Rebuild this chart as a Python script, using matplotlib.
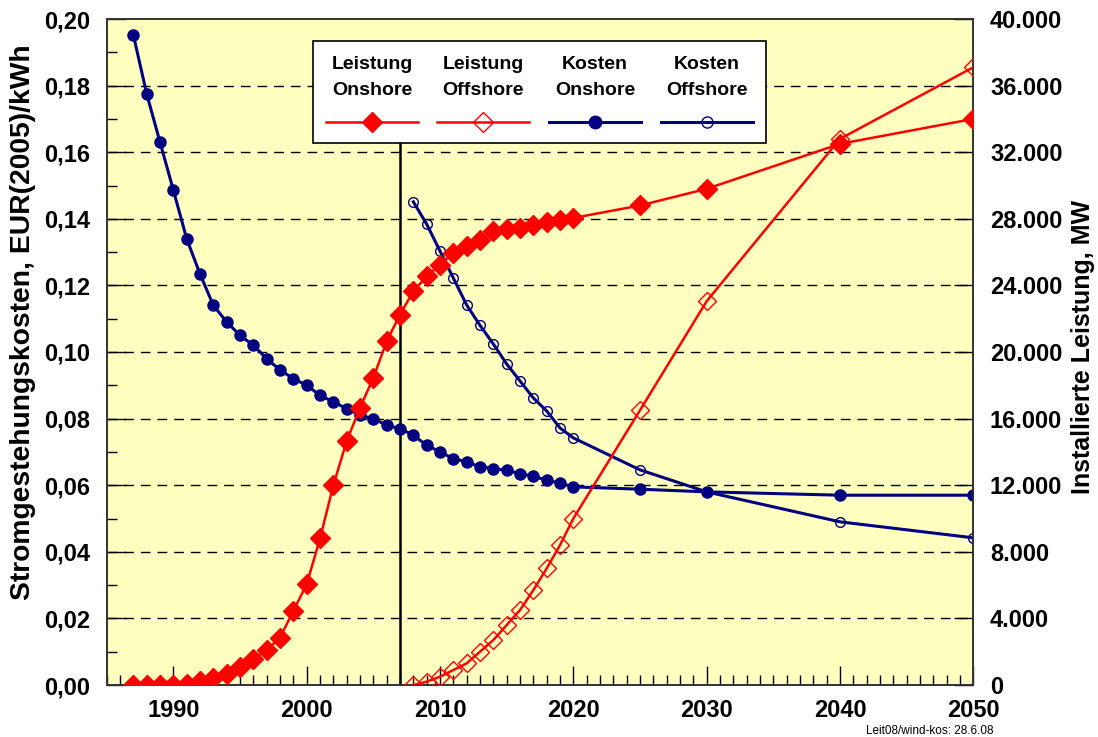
import matplotlib
matplotlib.use("Agg")
import matplotlib.pyplot as plt
from matplotlib.ticker import FixedLocator, FuncFormatter, MultipleLocator
from matplotlib.lines import Line2D
from matplotlib.patches import Rectangle

plt.rcParams['font.family'] = ['Liberation Sans', 'DejaVu Sans']
plt.rcParams['font.weight'] = 'bold'

# ---- data ----
years_on = list(range(1987, 2021)) + [2025, 2030, 2040, 2050]
kosten_onshore = [0.1952, 0.1775, 0.163, 0.1486, 0.134, 0.1234, 0.114, 0.109, 0.105,
                  0.102, 0.098, 0.0946, 0.092, 0.090, 0.087, 0.085, 0.083, 0.081,
                  0.080, 0.078, 0.077, 0.075, 0.072, 0.070, 0.068, 0.067, 0.0655,
                  0.065, 0.0645, 0.0635, 0.0627, 0.0615, 0.0606, 0.0595,
                  0.0588, 0.058, 0.057, 0.057]
leistung_onshore = [0, 0, 0, 0, 50, 250, 450, 650, 1100, 1550, 2100, 2850, 4450, 6050,
                    8800, 12000, 14650, 16650, 18450, 20650, 22250, 23650, 24550,
                    25250, 25950, 26350, 26750, 27250, 27400, 27450, 27600, 27800,
                    27900, 28050, 28800, 29800, 32500, 34000]

years_off = list(range(2008, 2021)) + [2025, 2030, 2040, 2050]
kosten_offshore = [0.1451, 0.1384, 0.1303, 0.1222, 0.1141, 0.108, 0.1024, 0.0964,
                   0.0913, 0.0862, 0.0823, 0.0772, 0.0742, 0.0646, 0.058, 0.049, 0.0442]
leistung_offshore = [0, 200, 500, 900, 1300, 2000, 2700, 3600, 4500, 5700, 7000, 8400,
                     10000, 16500, 23050, 32800, 37100]

marker_year = 2007
legend_line1 = ["Leistung", "Leistung", "Kosten", "Kosten"]
legend_line2 = ["Onshore", "Offshore", "Onshore", "Offshore"]

RED = '#FF0000'
NAVY = '#000080'

W, H = 1098, 737
fig = plt.figure(figsize=(W / 100, H / 100), dpi=100)
L, R, T, B = 106.7, 973.3, 19, 685
ax = fig.add_axes([L / W, 1 - B / H, (R - L) / W, (B - T) / H])
ax.set_facecolor('#FFFFC0')
ax2 = ax.twinx()

ax.set_xlim(1985, 2050)
ax.set_ylim(0, 0.20)
ax2.set_ylim(0, 40000)

def fy(px):
    return (B - px) / (B - T)

def fx(px):
    return (px - L) / (R - L)

# grid lines (dashed) at 0.02 steps
for yv in [0.02, 0.04, 0.06, 0.08, 0.10, 0.12, 0.14, 0.16, 0.18]:
    ax.axhline(yv, color='black', lw=1.0, ls=(0, (7, 5)), zorder=1)

# legend geometry
lx0, lx1 = fx(313), fx(766)
ly0, ly1 = fy(143), fy(41)

ax.axvline(marker_year, ymin=0, ymax=ly0, color='black', lw=1.8, zorder=2)

# cost lines (left axis)
ax.plot(years_on, kosten_onshore, color=NAVY, lw=2.2, marker='o', ms=8,
        mfc=NAVY, mec=NAVY, zorder=3)
ax.plot(years_off, kosten_offshore, color=NAVY, lw=2.2, marker='o', ms=7,
        mfc='none', mec=NAVY, mew=1.0, zorder=3)

# capacity lines (right axis)
ax2.plot(years_on, leistung_onshore, color=RED, lw=1.8, marker='D', ms=10,
         mfc=RED, mec=RED, zorder=3)
ax2.plot(years_off, leistung_offshore, color=RED, lw=1.8, marker='D', ms=9.5,
         mfc='none', mec=RED, mew=1.0, zorder=3)

# ticks
ax.xaxis.set_major_locator(FixedLocator([1990, 2000, 2010, 2020, 2030, 2040, 2050]))
ax.xaxis.set_minor_locator(MultipleLocator(1))
ax.yaxis.set_major_locator(MultipleLocator(0.02))
ax.yaxis.set_minor_locator(MultipleLocator(0.01))
ax.yaxis.set_major_formatter(FuncFormatter(lambda v, p: f"{v:.2f}".replace('.', ',')))
ax2.yaxis.set_major_locator(MultipleLocator(4000))
ax2.yaxis.set_major_formatter(FuncFormatter(lambda v, p: f"{int(round(v)):,}".replace(',', '.')))

ax.tick_params(axis='x', which='major', direction='in', length=14, width=1, pad=10,
               labelsize=17)
ax.tick_params(axis='x', which='minor', direction='in', length=7, width=1)
ax.tick_params(axis='y', which='major', direction='in', length=14, width=1, pad=12,
               labelsize=17)
ax.tick_params(axis='y', which='minor', direction='in', length=7, width=1)
ax2.tick_params(axis='y', which='major', direction='in', length=14, width=1, pad=12,
                labelsize=17)
for a in (ax, ax2):
    for s in a.spines.values():
        s.set_color('#333333')
        s.set_linewidth(1.2)
for lab in ax.get_xticklabels() + ax.get_yticklabels() + ax2.get_yticklabels():
    lab.set_fontweight('bold')

fig.text(23 / W, 1 - 322 / H, "Stromgestehungskosten, EUR(2005)/kWh", fontsize=20.3,
         fontweight='bold', rotation=90, ha='center', va='center')
fig.text(1083 / W, 1 - 347 / H, "Installierte Leistung, MW", fontsize=18,
         fontweight='bold', rotation=90, ha='center', va='center')

# legend box (manual, labels above samples)
ax2.add_patch(Rectangle((lx0, ly0), lx1 - lx0, ly1 - ly0, transform=ax2.transAxes,
                        facecolor='white', edgecolor='black', lw=1.2, zorder=10))
centers_px = [372, 483, 595, 707]
styles = [dict(color=RED, marker='D', ms=10.5, mfc=RED, mec=RED, lw=1.8),
          dict(color=RED, marker='D', ms=10.5, mfc='none', mec=RED, mew=1.0, lw=1.8),
          dict(color=NAVY, marker='o', ms=9, mfc=NAVY, mec=NAVY, lw=2.2),
          dict(color=NAVY, marker='o', ms=8, mfc='none', mec=NAVY, mew=1.0, lw=2.2)]
for cpx, l1, l2, st in zip(centers_px, legend_line1, legend_line2, styles):
    cx = fx(cpx)
    ax2.text(cx, fy(64), l1, transform=ax2.transAxes, ha='center', va='center',
             fontsize=14, fontweight='bold', zorder=11)
    ax2.text(cx, fy(90), l2, transform=ax2.transAxes, ha='center', va='center',
             fontsize=14, fontweight='bold', zorder=11)
    half = 46 / (R - L)
    ly = fy(122)
    ax2.add_line(Line2D([cx - half, cx + half], [ly, ly], transform=ax2.transAxes,
                        zorder=11, color=st['color'], lw=st['lw']))
    ax2.add_line(Line2D([cx], [ly], transform=ax2.transAxes, zorder=12, ls='none',
                        **{k: v for k, v in st.items() if k not in ('lw', 'color')}))

fig.text(993 / W, 1 - 731 / H, "Leit08/wind-kos: 28.6.08", ha='right', va='center',
         fontsize=8.5, fontweight='normal')

fig.savefig('out.png', dpi=100)
